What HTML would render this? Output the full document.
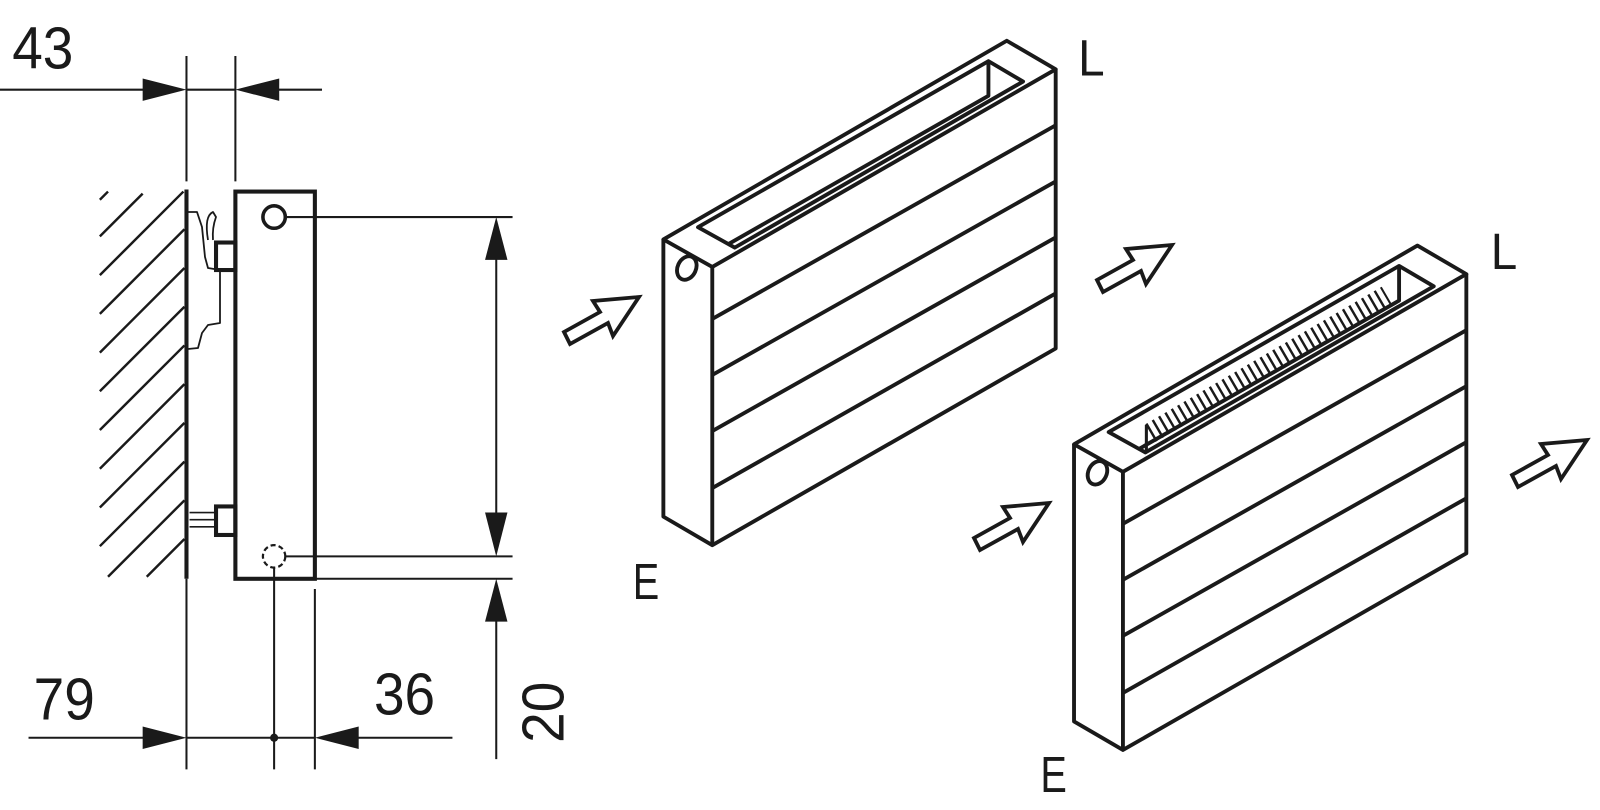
<!DOCTYPE html>
<html><head><meta charset="utf-8"><style>
html,body{margin:0;padding:0;background:#fff;}
svg{display:block;}
text{font-family:"Liberation Sans",sans-serif;fill:#1a1a1a;}
</style></head><body>
<svg width="1600" height="810" viewBox="0 0 1600 810" xmlns="http://www.w3.org/2000/svg">
<defs>
<polygon id="arw" points="0,0 -46,4 -39,15 -75,35 -69,47 -31,26 -26,39" fill="#fff" stroke="#1a1a1a" stroke-width="3.8" stroke-linejoin="miter"/>
<g id="rad" fill="none" stroke="#1a1a1a" stroke-width="3.8" stroke-linejoin="round">
  <polygon points="651,235 988,40 1036,68 699,262" fill="#fff"/>
  <polyline points="651,235 651,507 699,535 1036,342 1036,68"/>
  <line x1="699" y1="262" x2="699" y2="535"/>
  <line x1="699" y1="313" x2="1036" y2="123"/>
  <line x1="699" y1="368" x2="1036" y2="178"/>
  <line x1="699" y1="423" x2="1036" y2="233"/>
  <line x1="699" y1="479" x2="1036" y2="288"/>
  <polygon points="685,223 970,60 1004,80 721,243"/>
  <polyline points="970,60 970,94 714,240"/>
  <ellipse cx="674" cy="263" rx="9" ry="12" transform="rotate(25 674 263)"/>
</g>
</defs>

<g transform="scale(1.019)">
 <g fill="none" stroke="#1a1a1a" stroke-width="2">
  <line x1="0" y1="88" x2="145" y2="88"/>
  <line x1="268" y1="88" x2="316" y2="88"/>
  <line x1="183" y1="55" x2="183" y2="178"/>
  <line x1="231" y1="55" x2="231" y2="178"/>
  <line x1="183" y1="88" x2="231" y2="88"/>
  <line x1="280" y1="213" x2="503" y2="213"/>
  <line x1="280" y1="546" x2="503" y2="546"/>
  <line x1="309" y1="568" x2="503" y2="568"/>
  <line x1="487" y1="250" x2="487" y2="510"/>
  <line x1="487" y1="605" x2="487" y2="745"/>
  <line x1="28" y1="724" x2="145" y2="724"/>
  <line x1="183" y1="724" x2="309" y2="724"/>
  <line x1="345" y1="724" x2="444" y2="724"/>
  <line x1="183" y1="568" x2="183" y2="755"/>
  <line x1="309" y1="578" x2="309" y2="755"/>
  <line x1="269" y1="557" x2="269" y2="755"/>
  <g stroke-width="2.4">
   <line x1="98" y1="196" x2="106" y2="188"/>
   <line x1="98" y1="232" x2="140" y2="190"/>
   <line x1="98" y1="270" x2="180" y2="188"/>
   <line x1="98" y1="308" x2="181" y2="225"/>
   <line x1="98" y1="346" x2="181" y2="263"/>
   <line x1="98" y1="384" x2="181" y2="301"/>
   <line x1="98" y1="422" x2="181" y2="339"/>
   <line x1="98" y1="460" x2="181" y2="377"/>
   <line x1="98" y1="498" x2="181" y2="415"/>
   <line x1="98" y1="536" x2="181" y2="453"/>
   <line x1="106" y1="566" x2="181" y2="491"/>
   <line x1="144" y1="566" x2="181" y2="529"/>
  </g>
 </g>
 <g fill="#1a1a1a">
  <polygon points="183,88 140,77 140,99"/>
  <polygon points="231,88 274,77 274,99"/>
  <polygon points="487,213 476,255 498,255"/>
  <polygon points="487,546 476,503 498,503"/>
  <polygon points="487,568 476,610 498,610"/>
  <polygon points="183,724 140,713 140,735"/>
  <polygon points="309,724 352,713 352,735"/>
  <circle cx="269" cy="724" r="4"/>
 </g>
 <g fill="none" stroke="#1a1a1a">
  <line x1="183" y1="186" x2="183" y2="568" stroke-width="4"/>
  <rect x="231" y="188" width="78" height="380" stroke-width="4"/>
  <circle cx="269" cy="213" r="11" stroke-width="3.5"/>
  <circle cx="269" cy="546" r="11" stroke-width="2.2" stroke-dasharray="5 3"/>
  <rect x="212" y="238" width="19" height="27" stroke-width="4"/>
  <rect x="212" y="497" width="19" height="28" stroke-width="4"/>
  <line x1="186" y1="503" x2="212" y2="503" stroke-width="1.6"/>
  <line x1="186" y1="510" x2="212" y2="510" stroke-width="1.6"/>
  <line x1="186" y1="517" x2="212" y2="517" stroke-width="1.6"/>
 </g>
 <text x="12" y="67" font-size="58" textLength="60" lengthAdjust="spacingAndGlyphs">43</text>
 <text x="33" y="706" font-size="58" textLength="60" lengthAdjust="spacingAndGlyphs">79</text>
 <text x="367" y="701" font-size="58" textLength="60" lengthAdjust="spacingAndGlyphs">36</text>
 <text x="0" y="0" font-size="58" textLength="60" lengthAdjust="spacingAndGlyphs" transform="translate(553,729) rotate(-90)">20</text>
 <text x="1058" y="74" font-size="50" textLength="26" lengthAdjust="spacingAndGlyphs">L</text>
 <text x="621" y="588" font-size="50" textLength="26" lengthAdjust="spacingAndGlyphs">E</text>
 <text x="1463" y="264" font-size="50" textLength="26" lengthAdjust="spacingAndGlyphs">L</text>
 <text x="1021" y="777" font-size="50" textLength="26" lengthAdjust="spacingAndGlyphs">E</text>

 <use href="#rad"/>
 <g transform="translate(403,201)">
  <use href="#rad"/>
  <line x1="726" y1="224" x2="958" y2="89" stroke="#1a1a1a" stroke-width="20" stroke-dasharray="2.4 4.8"/>
  <line x1="722" y1="216" x2="722" y2="241" stroke="#1a1a1a" stroke-width="3"/>
 </g>
</g>

<g fill="none" stroke="#1a1a1a" stroke-width="1.8" stroke-linejoin="round">
 <polyline points="188,212 197,212 202,227 205,257 208,268 220,270 220,323 208,325 202,333 198,348 188,349"/>
 <path d="M208,240 Q204,216 213,212 L216,217 Q212,228 213,240"/>
</g>

<use href="#arw" x="639" y="297"/>
<use href="#arw" x="1172" y="245"/>
<use href="#arw" x="1049" y="503"/>
<use href="#arw" x="1587" y="440"/>
</svg>
</body></html>
